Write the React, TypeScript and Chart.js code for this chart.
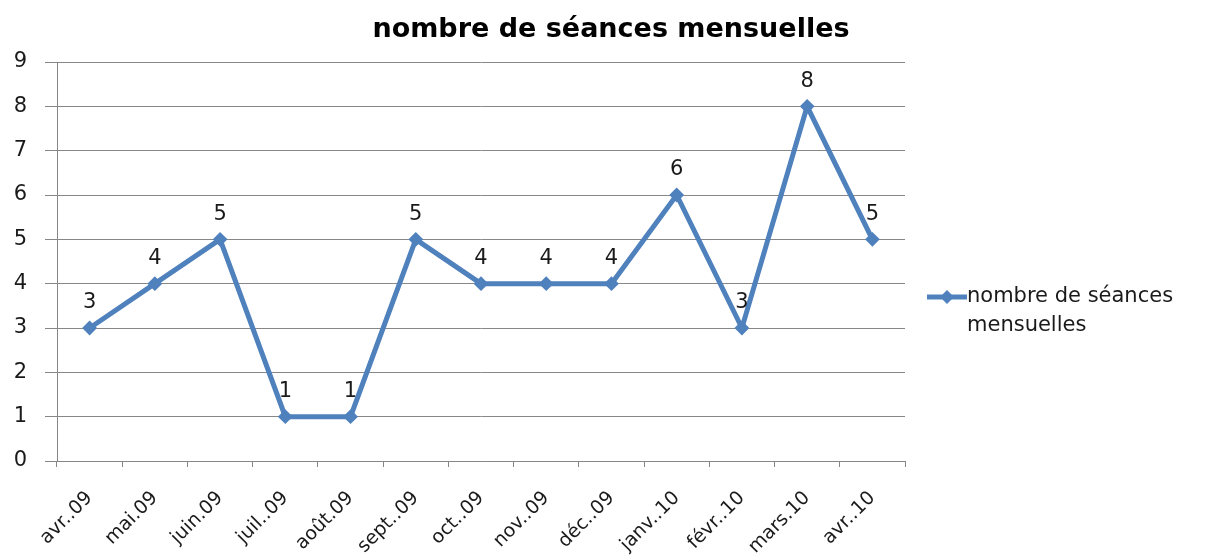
import React, { useEffect, useRef } from 'react';
import { Chart, registerables } from 'chart.js';

Chart.register(...registerables);

const chartTitle = 'nombre de séances mensuelles';
const categories = [
  'avr..09', 'mai.09', 'juin.09', 'juil..09', 'août.09', 'sept..09', 'oct..09',
  'nov..09', 'déc..09', 'janv..10', 'févr..10', 'mars.10', 'avr..10',
];
const seriesName = 'nombre de séances mensuelles';
const seances = [3, 4, 5, 1, 1, 5, 4, 4, 4, 6, 3, 8, 5];
const legendLines = ['nombre de séances', 'mensuelles'];
const yMin = 0;
const yMax = 9;
const yStep = 1;

const FONT = '"DejaVu Sans", sans-serif';
const LINE_COLOR = '#4F81BD';
const GRID_COLOR = '#878787';
const TEXT_COLOR = '#1a1a1a';

const titlePlugin = {
  id: 'centeredTitle',
  afterDraw(chart: any) {
    const ctx = chart.ctx;
    ctx.save();
    ctx.font = `bold 27px ${FONT}`;
    ctx.fillStyle = '#000';
    ctx.textAlign = 'center';
    ctx.textBaseline = 'middle';
    ctx.fillText(chartTitle, 603, 22);
    ctx.restore();
  },
};

const dataLabelPlugin = {
  id: 'pointValueLabels',
  afterDatasetsDraw(chart: any) {
    const ctx = chart.ctx;
    const meta = chart.getDatasetMeta(0);
    const values = chart.data.datasets[0].data as number[];
    ctx.save();
    ctx.font = `21px ${FONT}`;
    ctx.fillStyle = TEXT_COLOR;
    ctx.textAlign = 'center';
    ctx.textBaseline = 'middle';
    meta.data.forEach((pt: any, i: number) => {
      ctx.fillText(String(values[i]), pt.x, pt.y - 25);
    });
    ctx.restore();
  },
};

const sideLegendPlugin = {
  id: 'sideLegend',
  afterDraw(chart: any) {
    const ctx = chart.ctx;
    const area = chart.chartArea;
    const x0 = area.right + 22;
    const x1 = x0 + 40;
    const yMid = 289;
    ctx.save();
    ctx.strokeStyle = LINE_COLOR;
    ctx.lineWidth = 5;
    ctx.beginPath();
    ctx.moveTo(x0, yMid);
    ctx.lineTo(x1, yMid);
    ctx.stroke();
    const cx = (x0 + x1) / 2;
    const r = 7;
    ctx.fillStyle = LINE_COLOR;
    ctx.beginPath();
    ctx.moveTo(cx, yMid - r);
    ctx.lineTo(cx + r, yMid);
    ctx.lineTo(cx, yMid + r);
    ctx.lineTo(cx - r, yMid);
    ctx.closePath();
    ctx.fill();
    ctx.font = `21px ${FONT}`;
    ctx.fillStyle = TEXT_COLOR;
    ctx.textAlign = 'left';
    ctx.textBaseline = 'middle';
    legendLines.forEach((line, i) => {
      ctx.fillText(line, x1, yMid + i * 29);
    });
    ctx.restore();
  },
};

export default function App() {
  const canvasRef = useRef<HTMLCanvasElement | null>(null);

  useEffect(() => {
    if (!canvasRef.current) return;
    const chart = new Chart(canvasRef.current, {
      type: 'line',
      data: {
        labels: categories,
        datasets: [
          {
            label: seriesName,
            data: seances,
            borderColor: LINE_COLOR,
            backgroundColor: LINE_COLOR,
            borderWidth: 5,
            pointStyle: 'rectRot',
            pointRadius: 6,
            pointBorderWidth: 2,
            pointBackgroundColor: LINE_COLOR,
            pointBorderColor: LINE_COLOR,
            tension: 0,
            fill: false,
          },
        ],
      },
      options: {
        responsive: true,
        maintainAspectRatio: false,
        animation: false,
        layout: { padding: { left: 0, right: 300, top: 54, bottom: 0 } },
        plugins: {
          legend: { display: false },
          tooltip: { enabled: false },
          title: { display: false },
        },
        scales: {
          x: {
            type: 'category',
            offset: true,
            grid: {
              display: true,
              offset: true,
              drawOnChartArea: false,
              drawTicks: true,
              tickLength: 6,
              color: GRID_COLOR,
            },
            border: { display: true, color: GRID_COLOR, width: 1 },
            ticks: {
              autoSkip: false,
              minRotation: 45,
              maxRotation: 45,
              padding: 20,
              color: TEXT_COLOR,
              font: { family: FONT, size: 19 },
            },
            afterFit: (s: any) => {
              s.height = 95;
            },
          },
          y: {
            min: yMin,
            max: yMax,
            ticks: {
              stepSize: yStep,
              padding: 18,
              color: TEXT_COLOR,
              font: { family: FONT, size: 21 },
            },
            grid: { color: GRID_COLOR, tickLength: 12, drawTicks: true },
            border: { display: true, color: GRID_COLOR, width: 1 },
            afterFit: (s: any) => {
              s.width = 49;
            },
          },
        },
      },
      plugins: [dataLabelPlugin, sideLegendPlugin, titlePlugin],
    });
    return () => chart.destroy();
  }, []);

  return (
    <div style={{ position: 'relative', width: '1197px', height: '548px' }}>
      <canvas ref={canvasRef} />
    </div>
  );
}
